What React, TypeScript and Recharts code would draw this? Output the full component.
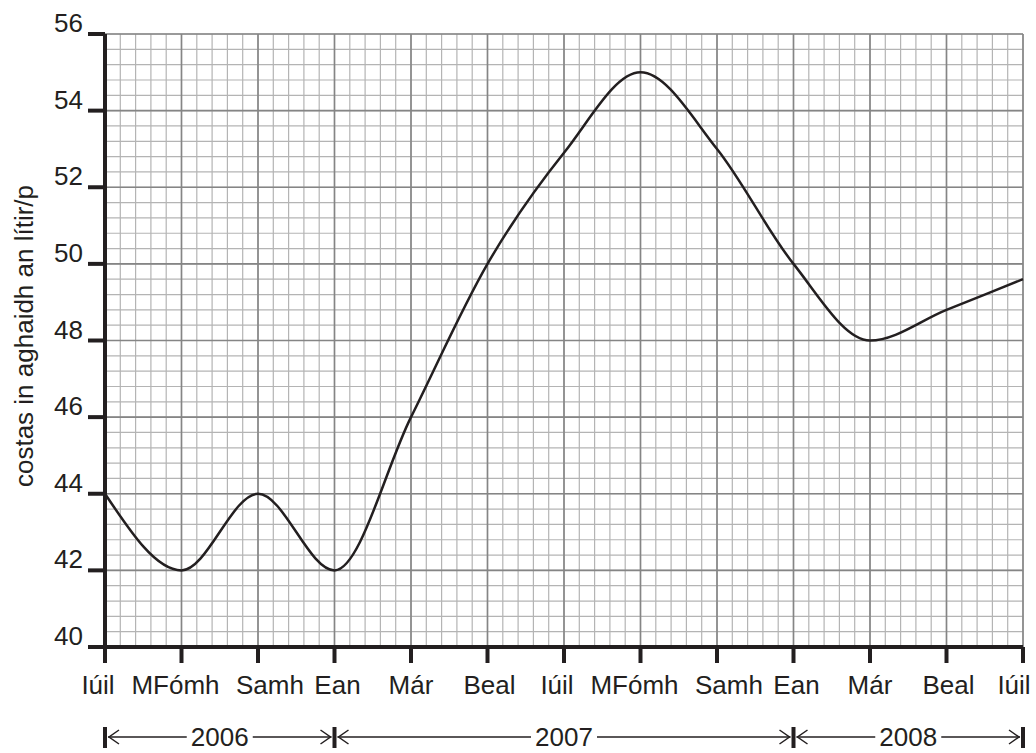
import { LineChart, Line, XAxis, YAxis, CartesianGrid } from "recharts";

// month labels along the bottom, one per tick (Iúil 2006 .. Iúil 2008)
const months = [
  "Iúil",
  "MFómh",
  "Samh",
  "Ean",
  "Már",
  "Beal",
  "Iúil",
  "MFómh",
  "Samh",
  "Ean",
  "Már",
  "Beal",
  "Iúil",
];

// cost per litre in pence at each tick
const cost = [44, 42, 44, 42, 46, 50, 52.9, 55, 53, 50, 48, 48.8, 49.6];

const yTicks = [40, 42, 44, 46, 48, 50, 52, 54, 56];

// year brackets under the axis: start tick, end tick, label
const years: [number, number, string][] = [
  [0, 3, "2006"],
  [3, 9, "2007"],
  [9, 12, "2008"],
];

const data = cost.map((v, i) => ({ x: i, cost: v }));

const W = 1036;
const H = 753;
const LEFT = 105;
const RIGHT = 1023;
const TOP = 34;
const BOTTOM = 647;
const INK = "#231f20";
const FONT = "'Liberation Sans', Arial, sans-serif";

// the month names in the print are not quite centred on their ticks
const NUDGE: Record<string, number> = {
  Iúil: -7,
  MFómh: -6,
  Samh: 12,
  Ean: 3,
  Már: 0,
  Beal: 2,
};

// minor squares: 5 per month step and 5 per 2p step
const MINOR_X = 60;
const MINOR_Y = 40;

const xOf = (i: number) => LEFT + (i * (RIGHT - LEFT)) / (months.length - 1);

const minorV = Array.from({ length: MINOR_X + 1 }, (_, i) => LEFT + (i * (RIGHT - LEFT)) / MINOR_X);
const minorH = Array.from({ length: MINOR_Y + 1 }, (_, i) => TOP + (i * (BOTTOM - TOP)) / MINOR_Y);

// eslint-disable-next-line @typescript-eslint/no-explicit-any
function MonthTick({ x, y, payload, index }: any) {
  const name = months[payload.value];
  const last = index === months.length - 1;
  return (
    <text
      x={x + (NUDGE[name] ?? 0) + (last ? -2 : 0)}
      y={y}
      dy="0.72em"
      textAnchor="middle"
      fontSize={26}
      fontFamily={FONT}
      fill={INK}
    >
      {name}
    </text>
  );
}

// eslint-disable-next-line @typescript-eslint/no-explicit-any
function CostTick({ x, y, payload }: any) {
  return (
    <text
      x={x}
      y={y - 2}
      textAnchor="end"
      fontSize={26}
      fontFamily={FONT}
      fill={INK}
    >
      {payload.value}
    </text>
  );
}

function YearBrackets() {
  const yLine = 737;
  const labelW = 66;
  return (
    <svg
      width={W}
      height={H}
      style={{ position: "absolute", left: 0, top: 0, pointerEvents: "none" }}
    >
      <text
        transform={`translate(33, 336) rotate(-90)`}
        textAnchor="middle"
        fontSize={26}
        fontFamily={FONT}
        fill={INK}
      >
        costas in aghaidh an lítir/p
      </text>
      {years.map(([a, b, label]) => {
        const xa = xOf(a);
        const xb = xOf(b);
        const mid = (xa + xb) / 2;
        return (
          <g key={label}>
            <line x1={xa + 3} x2={xb - 3} y1={yLine} y2={yLine} stroke={INK} strokeWidth={1.5} />
            <polyline
              points={`${xa + 14},${yLine - 7} ${xa + 4},${yLine} ${xa + 14},${yLine + 7}`}
              fill="none"
              stroke={INK}
              strokeWidth={1.5}
            />
            <polyline
              points={`${xb - 14},${yLine - 7} ${xb - 4},${yLine} ${xb - 14},${yLine + 7}`}
              fill="none"
              stroke={INK}
              strokeWidth={1.5}
            />
            <rect x={mid - labelW / 2} y={yLine - 12} width={labelW} height={24} fill="#fff" />
            <text
              x={mid}
              y={yLine}
              dy="0.36em"
              textAnchor="middle"
              fontSize={26}
              fontFamily={FONT}
              fill={INK}
            >
              {label}
            </text>
          </g>
        );
      })}
      {[0, 3, 9, 12].map((i) => (
        <line
          key={i}
          x1={xOf(i)}
          x2={xOf(i)}
          y1={727}
          y2={748}
          stroke={INK}
          strokeWidth={4}
        />
      ))}
    </svg>
  );
}

export default function App() {
  return (
    <div
      style={{
        position: "absolute",
        left: 0,
        top: 0,
        width: W,
        height: H,
        background: "#fff",
      }}
    >
      <LineChart
        width={W}
        height={H}
        data={data}
        margin={{ top: TOP, right: W - RIGHT, left: 0, bottom: H - BOTTOM - 60 }}
      >
        {/* minor squares */}
        <CartesianGrid
          stroke="#b4b4b4"
          strokeWidth={1.2}
          verticalPoints={minorV}
          horizontalPoints={minorH}
        />
        {/* major lines on every tick */}
        <CartesianGrid stroke="#858585" strokeWidth={1.6} />
        <XAxis
          dataKey="x"
          type="number"
          domain={[0, 12]}
          ticks={months.map((_, i) => i)}
          interval={0}
          height={60}
          axisLine={{ stroke: INK, strokeWidth: 4 }}
          tickLine={{ stroke: INK, strokeWidth: 4 }}
          tickSize={16}
          tickMargin={12}
          tick={<MonthTick />}
        />
        <YAxis
          type="number"
          domain={[40, 56]}
          ticks={yTicks}
          interval={0}
          width={LEFT}
          axisLine={{ stroke: INK, strokeWidth: 4 }}
          tickLine={{ stroke: INK, strokeWidth: 4 }}
          tickSize={17}
          tickMargin={5}
          tick={<CostTick />}
        />
        <Line
          type="monotone"
          dataKey="cost"
          stroke={INK}
          strokeWidth={2.5}
          dot={false}
          activeDot={false}
          isAnimationActive={false}
        />
      </LineChart>
      <YearBrackets />
    </div>
  );
}
